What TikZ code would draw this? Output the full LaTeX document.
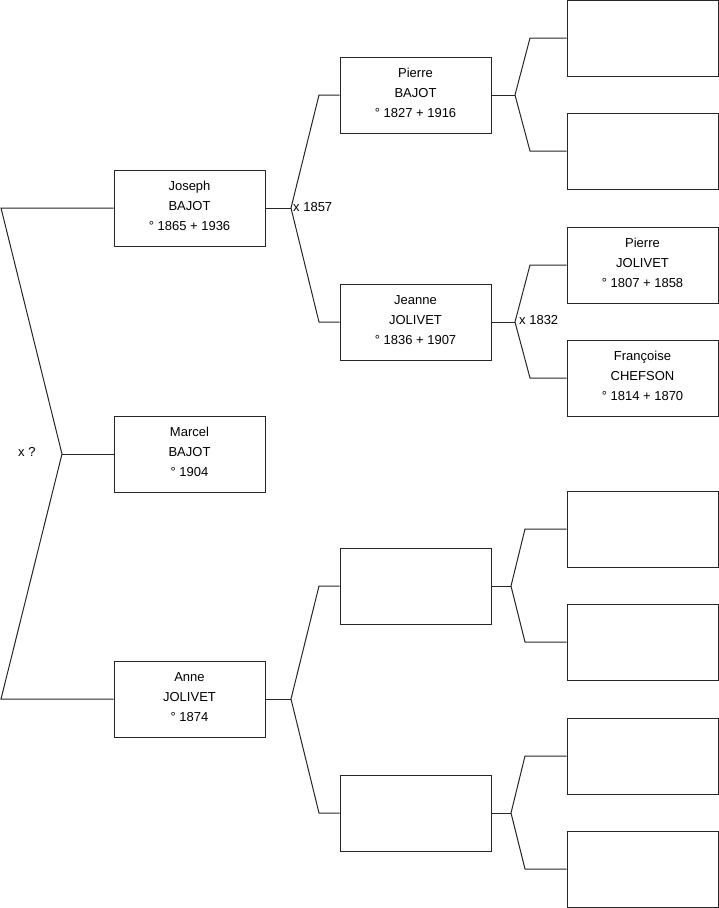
\documentclass[tikz,border=0pt]{standalone}
\usepackage{fontspec}
\setmainfont{Liberation Sans}
\begin{document}
\begin{tikzpicture}[x=1pt,y=-1pt,
  person/.style={draw=black!85, line width=1pt, minimum width=151pt, minimum height=76pt,
    inner sep=0pt, align=center, text depth=4pt, font=\fontsize{13}{20}\selectfont},
  link/.style={draw=black!85, line width=1pt},
  lbl/.style={font=\fontsize{13}{14}\selectfont, inner sep=0pt}]
\useasboundingbox (0,0) rectangle (719,908);
% generation 1
\node[person] (joseph) at (189.5,208) {Joseph\\BAJOT\\° 1865 + 1936};
\node[person] (marcel) at (189.5,454) {Marcel\\BAJOT\\° 1904};
\node[person] (anne) at (189.5,699) {Anne\\JOLIVET\\° 1874};
% generation 2
\node[person] (pierre) at (415.5,95) {Pierre\\BAJOT\\° 1827 + 1916};
\node[person] (jeanne) at (415.5,322) {Jeanne\\JOLIVET\\° 1836 + 1907};
\node[person] (e1) at (415.5,586) {};
\node[person] (e2) at (415.5,813) {};
% generation 3
\node[person] (r1) at (642.5,38) {};
\node[person] (r2) at (642.5,151) {};
\node[person] (r3) at (642.5,265) {Pierre\\JOLIVET\\° 1807 + 1858};
\node[person] (r4) at (642.5,378) {Françoise\\CHEFSON\\° 1814 + 1870};
\node[person] (r5) at (642.5,529) {};
\node[person] (r6) at (642.5,642) {};
\node[person] (r7) at (642.5,756) {};
\node[person] (r8) at (642.5,869) {};
% fork coordinates
\coordinate (fa) at (62,454);
\coordinate (ja) at (1,208);
\coordinate (aa) at (1,699);
\coordinate (fj) at (291,208);
\coordinate (fj1) at (319,95);
\coordinate (fj2) at (319,322);
\coordinate (fan) at (291,699);
\coordinate (fan1) at (319,586);
\coordinate (fan2) at (319,813);
\coordinate (fp) at (515,95);
\coordinate (fp1) at (530,38);
\coordinate (fp2) at (530,151);
\coordinate (fje) at (515,322);
\coordinate (fje1) at (530,265);
\coordinate (fje2) at (530,378);
\coordinate (fe1) at (511,586);
\coordinate (fe11) at (525,529);
\coordinate (fe12) at (525,642);
\coordinate (fe2) at (511,813);
\coordinate (fe21) at (525,756);
\coordinate (fe22) at (525,869);
% connectors
\draw[link] (joseph.west) -- (ja) -- (fa) -- (aa) -- (anne.west);
\draw[link] (fa) -- (marcel.west);
\draw[link] (joseph.east) -- (fj);
\draw[link] (pierre.west) -- (fj1) -- (fj) -- (fj2) -- (jeanne.west);
\draw[link] (anne.east) -- (fan);
\draw[link] (e1.west) -- (fan1) -- (fan) -- (fan2) -- (e2.west);
\draw[link] (pierre.east) -- (fp);
\draw[link] (r1.west) -- (fp1) -- (fp) -- (fp2) -- (r2.west);
\draw[link] (jeanne.east) -- (fje);
\draw[link] (r3.west) -- (fje1) -- (fje) -- (fje2) -- (r4.west);
\draw[link] (e1.east) -- (fe1);
\draw[link] (r5.west) -- (fe11) -- (fe1) -- (fe12) -- (r6.west);
\draw[link] (e2.east) -- (fe2);
\draw[link] (r7.west) -- (fe21) -- (fe2) -- (fe22) -- (r8.west);
% labels
\node[lbl, anchor=west] (m1) at (18,452) {x ?};
\node[lbl, anchor=west] (m2) at (293,207) {x 1857};
\node[lbl, anchor=west] (m3) at (519,320) {x 1832};
\end{tikzpicture}
\end{document}
